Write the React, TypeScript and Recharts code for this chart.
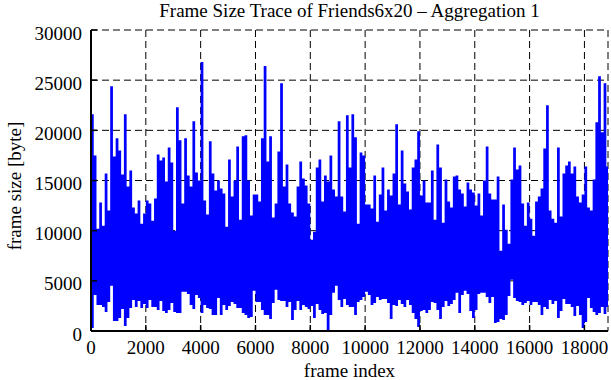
import React from 'react';
import { ComposedChart, Area, XAxis, YAxis, CartesianGrid } from 'recharts';

// ---- data ----
const TRACE_LENGTH = 18860; // last frame index
const BIN_SIZE = 100; // frames per bin

// highest frame size (bytes) in each 100-frame bin
const frameHigh = [
  21600, 17500, 10200, 12800, 10500, 15700, 12000, 24400, 17400, 19200,
  18000, 15600, 21600, 14400, 16000, 12300, 11700, 13000, 10700, 11700,
  13000, 12700, 11000, 13200, 17600, 17000, 17300, 14900, 18300, 16800,
  10000, 22300, 19000, 12700, 19200, 15500, 14400, 20900, 15800, 15000,
  26800, 13000, 11600, 18900, 15700, 14000, 15000, 14200, 13700, 10400,
  17100, 13400, 15000, 18400, 11100, 19400, 19500, 15000, 11500, 13600,
  13600, 12900, 19200, 26400, 16900, 19400, 11300, 12700, 17900, 24700,
  14400, 16600, 12700, 11800, 11400, 14400, 16900, 15200, 14500, 12700,
  9100, 9900, 16300, 17100, 12900, 15500, 14900, 17500, 14100, 13400,
  20900, 13400, 11900, 21500, 16300, 21600, 19300, 10700, 17800, 17500,
  12600, 12600, 12200, 15500, 10900, 13600, 16300, 12000, 14100, 13500,
  15700, 20600, 12600, 18000, 14700, 13900, 12100, 16300, 17100, 19900,
  13500, 15000, 12800, 12800, 16000, 11100, 18600, 16300, 10800, 15100,
  12900, 12300, 15400, 15500, 14100, 13700, 12400, 14800, 14100, 13800,
  12500, 13700, 11500, 15000, 18400, 13700, 13100, 13100, 15400, 8000,
  12600, 10100, 8700, 15100, 18300, 16100, 16500, 12700, 10500, 12800,
  11200, 9500, 12900, 13400, 14200, 18200, 22500, 12000, 11200, 10800,
  18300, 11400, 15700, 16500, 16900, 15700, 16400, 13400, 12800, 13600,
  16400, 12300, 12000, 15100, 20800, 25400, 19800, 24700, 16400,
];

// lowest frame size (bytes) in each 100-frame bin
const frameLow = [
  300, 3600, 2600, 2600, 2400, 1900, 2900, 4500, 1000, 1000,
  1300, 2200, 500, 1300, 2300, 3100, 2400, 3000, 2300, 2700,
  2300, 3100, 2400, 2400, 2100, 3000, 2000, 1800, 2100, 2800,
  1900, 1800, 1800, 3900, 3900, 3700, 2600, 2200, 3600, 3300,
  1800, 2600, 2300, 2200, 1600, 1600, 3300, 1600, 2600, 2100,
  2500, 2900, 2700, 2300, 2300, 1800, 1600, 1300, 1400, 4000,
  2900, 2900, 2100, 1600, 1600, 1200, 2800, 4100, 3100, 3000,
  3000, 2400, 2900, 1100, 2100, 3000, 2100, 2600, 2400, 2200,
  2500, 1300, 2700, 2100, 1700, 1800, 100, 1600, 3800, 4500,
  3100, 2400, 3200, 2600, 2400, 2400, 1600, 2900, 3100, 3400,
  3900, 3600, 2600, 2800, 3400, 3100, 3200, 3200, 2800, 1200,
  2600, 2500, 3100, 2700, 2400, 3100, 2600, 1800, 1200, 400,
  2000, 2100, 1800, 2100, 2900, 2800, 2100, 1200, 2400, 3000,
  2500, 2700, 3100, 3800, 1800, 3600, 4000, 3700, 2000, 1300,
  2100, 3700, 3800, 3800, 3400, 2800, 3400, 800, 900, 1200,
  1100, 1600, 3500, 5100, 3300, 3000, 2900, 2600, 2800, 3000,
  2600, 2900, 2900, 2600, 1600, 2400, 2200, 3100, 2700, 3000,
  1300, 2000, 3200, 2700, 2700, 2400, 1500, 2500, 1600, 300,
  900, 3300, 2300, 1900, 1600, 1800, 2400, 1700, 2400,
];

const xTicks = [0, 2000, 4000, 6000, 8000, 10000, 12000, 14000, 16000, 18000];
const yTicks = [0, 5000, 10000, 15000, 20000, 25000, 30000];

// each bin starts at i*BIN_SIZE; a closing point at the trace end holds the last bin
const data = frameHigh
  .map((hi, i) => ({ frame: i * BIN_SIZE, range: [frameLow[i], hi] }))
  .concat([
    {
      frame: TRACE_LENGTH,
      range: [frameLow[frameLow.length - 1], frameHigh[frameHigh.length - 1]],
    },
  ]);

const FONT = "'Liberation Serif', 'Times New Roman', serif";
const FS = 19;

const XTick = (props: any) => {
  const { x, y, payload } = props;
  return (
    <text x={x} y={y + 29} textAnchor="middle" fontFamily={FONT} fontSize={FS} fill="#000">
      {payload.value}
    </text>
  );
};

const YTick = (props: any) => {
  const { x, y, payload } = props;
  return (
    <text x={x - 15} y={y + 9.5} textAnchor="end" fontFamily={FONT} fontSize={FS} fill="#000">
      {payload.value}
    </text>
  );
};

const axisLine = { stroke: '#000', strokeWidth: 2 };
const tickLine = { stroke: '#000', strokeWidth: 1.5 };

export default function App() {
  return (
    <div style={{ position: 'absolute', left: 0, top: 0, width: 611, height: 380, background: '#fff' }}>
      <ComposedChart width={611} height={380} data={data} margin={{ top: 30, right: 3, bottom: 0, left: 0 }}>
        <CartesianGrid stroke="#000" strokeWidth={1} strokeDasharray="7 4" />
        <Area
          dataKey="range"
          type="stepAfter"
          stroke="none"
          fill="#0000ff"
          fillOpacity={1}
          dot={false}
          activeDot={false}
          isAnimationActive={false}
        />
        <XAxis
          dataKey="frame"
          type="number"
          domain={[0, TRACE_LENGTH]}
          ticks={xTicks}
          interval={0}
          allowDataOverflow
          height={49}
          axisLine={axisLine}
          tickLine={tickLine}
          tickSize={-6}
          tickMargin={0}
          tick={<XTick />}
        />
        <XAxis
          xAxisId="top"
          orientation="top"
          type="number"
          domain={[0, TRACE_LENGTH]}
          ticks={xTicks}
          interval={0}
          allowDataOverflow
          height={0}
          axisLine={axisLine}
          tickLine={tickLine}
          tickSize={-6}
          tick={false}
        />
        <YAxis
          type="number"
          domain={[0, 30000]}
          ticks={yTicks}
          interval={0}
          allowDataOverflow
          width={91}
          axisLine={axisLine}
          tickLine={tickLine}
          tickSize={-6}
          tickMargin={0}
          tick={<YTick />}
        />
        <YAxis
          yAxisId="right"
          orientation="right"
          type="number"
          domain={[0, 30000]}
          ticks={yTicks}
          interval={0}
          allowDataOverflow
          width={0}
          axisLine={axisLine}
          tickLine={tickLine}
          tickSize={-6}
          tick={false}
        />
      </ComposedChart>
      <svg
        width={611}
        height={380}
        style={{ position: 'absolute', left: 0, top: 0, pointerEvents: 'none' }}
      >
        <text x={349.5} y={17} textAnchor="middle" fontFamily={FONT} fontSize={FS} fill="#000">
          Frame Size Trace of Friends6x20 – Aggregation 1
        </text>
        <text x={349.5} y={377} textAnchor="middle" fontFamily={FONT} fontSize={FS} fill="#000">
          frame index
        </text>
        <text
          x={0}
          y={0}
          transform="translate(21,186) rotate(-90)"
          textAnchor="middle"
          fontFamily={FONT}
          fontSize={FS}
          fill="#000"
        >
          frame size [byte]
        </text>
      </svg>
    </div>
  );
}
